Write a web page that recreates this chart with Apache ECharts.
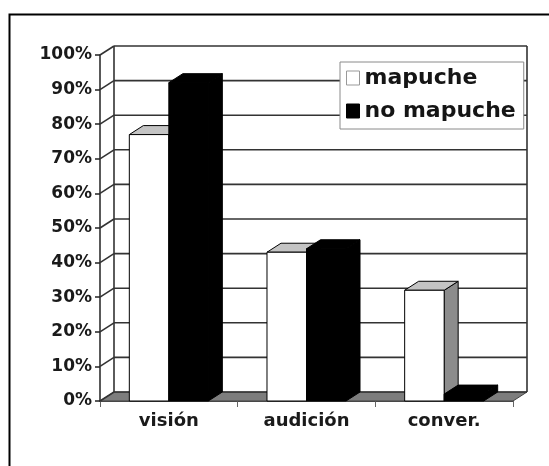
<!DOCTYPE html>
<html>
<head>
<meta charset="utf-8">
<script src="https://cdn.jsdelivr.net/npm/echarts@6/dist/echarts.min.js"></script>
<style>html,body{margin:0;padding:0;background:#fff;}#c{width:549px;height:466px;}</style>
</head>
<body>
<div id="c"></div>
<script>
var categories = ['visión', 'audición', 'conver.'];
var mapuche = [0.77, 0.43, 0.32];
var noMapuche = [0.92, 0.44, 0.02];
var yTicks = [0, 0.1, 0.2, 0.3, 0.4, 0.5, 0.6, 0.7, 0.8, 0.9, 1.0];
var seriesNames = ['mapuche', 'no mapuche'];

var DX = 14, DY = -9;
var FONT = 'DejaVu Sans';

var chart = echarts.init(document.getElementById('c'));

function gridRender(params, api) {
  var cs = params.coordSys;
  var p = api.coord([0, api.value(1)]);
  var x0 = cs.x, x1 = cs.x + cs.width, y = p[1];
  var ls = {stroke: '#333', lineWidth: 1.6};
  return {
    type: 'group',
    children: [
      {type: 'line', shape: {x1: x0, y1: y, x2: x0 + DX, y2: y + DY}, style: ls},
      {type: 'line', shape: {x1: x0 + DX, y1: y + DY, x2: x1 + DX, y2: y + DY}, style: ls}
    ]
  };
}

function wallRender(params, api) {
  var cs = params.coordSys;
  var x0 = cs.x, x1 = cs.x + cs.width;
  var yb = api.coord([0, 0])[1];
  var yt = api.coord([0, 1])[1];
  return {
    type: 'group',
    children: [
      {type: 'polygon', shape: {points: [[x0, yb], [x1, yb], [x1 + DX, yb + DY], [x0 + DX, yb + DY]]},
        style: {fill: '#7d7d7d', stroke: '#444', lineWidth: 1}},
      {type: 'line', shape: {x1: x0 + DX, y1: yb + DY, x2: x0 + DX, y2: yt + DY}, style: {stroke: '#333', lineWidth: 1.6}},
      {type: 'line', shape: {x1: x1 + DX, y1: yb + DY, x2: x1 + DX, y2: yt + DY}, style: {stroke: '#333', lineWidth: 1.6}}
    ]
  };
}

function makeBarRender(idx, front, topC, side) {
  return function (params, api) {
    var ci = api.value(0), v = api.value(1);
    var base = api.coord([ci, 0]);
    var top = api.coord([ci, v]);
    var band = api.size([1, 0])[0];
    var w = band * 0.287;
    var xl = idx === 0 ? base[0] - w : base[0];
    var xr = xl + w;
    var y0 = base[1], yt = top[1];
    var st = {stroke: '#000', lineWidth: 1};
    return {
      type: 'group',
      children: [
        {type: 'polygon', shape: {points: [[xr, yt], [xr + DX, yt + DY], [xr + DX, y0 + DY], [xr, y0]]},
          style: Object.assign({fill: side}, st)},
        {type: 'polygon', shape: {points: [[xl, yt], [xl + DX, yt + DY], [xr + DX, yt + DY], [xr, yt]]},
          style: Object.assign({fill: topC}, st)},
        {type: 'rect', shape: {x: xl, y: yt, width: w, height: y0 - yt},
          style: Object.assign({fill: front}, st)}
      ]
    };
  };
}

var option = {
  animation: false,
  backgroundColor: '#fff',
  graphic: [{
    type: 'rect', left: 7, top: 12, z: 0,
    shape: {x: 0, y: 0, width: 600, height: 600},
    style: {fill: 'none', stroke: '#000', lineWidth: 2}
  }],
  grid: {left: 100, top: 55, right: 36, bottom: 65, containLabel: false},
  legend: {
    orient: 'vertical',
    left: 340, top: 62,
    padding: [5, 8, 7, 6],
    itemGap: 11,
    itemWidth: 13, itemHeight: 14,
    backgroundColor: '#fff',
    borderColor: '#8a8a8a', borderWidth: 1,
    selectedMode: false,
    textStyle: {fontFamily: FONT, fontWeight: 'bold', fontSize: 22, color: '#151515', lineHeight: 21},
    data: [
      {name: seriesNames[0], icon: 'rect', itemStyle: {color: '#fff', borderColor: '#999', borderWidth: 1}},
      {name: seriesNames[1], icon: 'rect', itemStyle: {color: '#000', borderColor: '#000', borderWidth: 1}}
    ]
  },
  xAxis: {
    type: 'category',
    data: categories,
    axisLine: {lineStyle: {color: '#111', width: 1.5}},
    axisTick: {show: true, length: 6, lineStyle: {color: '#666'}},
    axisLabel: {fontFamily: FONT, fontWeight: 'bold', fontSize: 18, color: '#1a1a1a', margin: 11, lineHeight: 18},
    splitLine: {show: false}
  },
  yAxis: {
    type: 'value',
    min: 0, max: 1, interval: 0.1,
    axisLine: {show: true, lineStyle: {color: '#222', width: 1.5}},
    axisTick: {show: true, length: 5, lineStyle: {color: '#222', width: 1.5}},
    axisLabel: {
      fontFamily: FONT, fontWeight: 'bold', fontSize: 17, color: '#1a1a1a', margin: 8,
      formatter: function (v) { return Math.round(v * 100) + '%'; }
    },
    splitLine: {show: false}
  },
  series: [
    {
      name: 'walls', type: 'custom', z: 1, silent: true,
      renderItem: wallRender,
      data: [[0, 0]],
      encode: {x: 0, y: 1}
    },
    {
      name: 'gridlines', type: 'custom', z: 1, silent: true,
      renderItem: gridRender,
      data: yTicks.map(function (v) { return [0, v]; }),
      encode: {x: 0, y: 1}
    },
    {
      name: seriesNames[0], type: 'custom', z: 3,
      itemStyle: {color: '#fff'},
      renderItem: makeBarRender(0, '#ffffff', '#c4c4c4', '#8c8c8c'),
      data: mapuche.map(function (v, i) { return [i, v]; }),
      encode: {x: 0, y: 1}
    },
    {
      name: seriesNames[1], type: 'custom', z: 4,
      itemStyle: {color: '#000'},
      renderItem: makeBarRender(1, '#000000', '#000000', '#000000'),
      data: noMapuche.map(function (v, i) { return [i, v]; }),
      encode: {x: 0, y: 1}
    }
  ]
};
chart.setOption(option);
</script>
</body>
</html>
